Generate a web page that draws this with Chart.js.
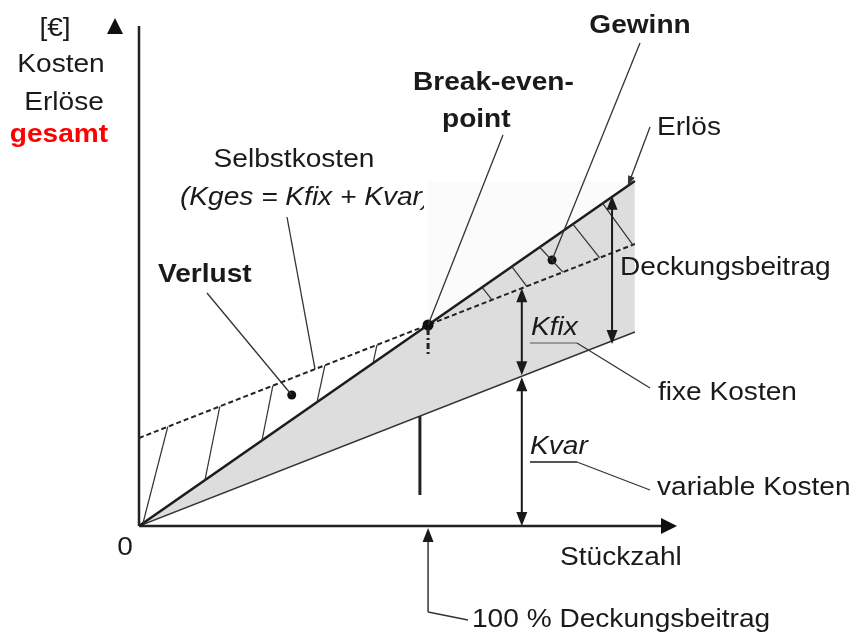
<!DOCTYPE html>
<html lang="de">
<head>
<meta charset="utf-8">
<title>Break-even-Diagramm</title>
<script src="https://cdn.jsdelivr.net/npm/chart.js@4.4.0/dist/chart.umd.min.js"></script>
<style>
html, body { margin: 0; padding: 0; background: #fff; }
#wrap { width: 858px; height: 635px; position: relative; }
</style>
</head>
<body>
<div id="wrap"><canvas id="chart"></canvas></div>
<script>
const stueck = [0, 100];
const erloes = [0, 69];
const kostenGesamt = [17.6, 56.4];
const kostenVariabel = [0, 38.8];
const breakEven = [58.3, 40.2];
const verlustPunkt = [30.8, 26.2];
const gewinnPunkt = [83.3, 53.2];
// Schraffur: [x auf Erlös, x auf Selbstkosten]
const verlustStriche = [[0.8, 5.8], [13.3, 16.3], [24.8, 27.0], [35.9, 37.5], [47.2, 48.0]];
const gewinnStriche = [[69.2, 71.2], [75.2, 78.2], [80.8, 85.5], [87.5, 92.9], [93.5, 99.6]];
const kfixPfeilX = 77.2;
const dbPfeilX = 95.4;
const balkenX = 56.65;
const stueckMax = 108.5;
const euroMax = 100;

const FONT = '"Liberation Sans", Arial, sans-serif';
const INK = '#1a1a1a';

function pts(xs, ys) { return xs.map((x, i) => ({ x: x, y: ys[i] })); }

function yAt(ys, x) {
    for (let i = 1; i < stueck.length; i++) {
        if (x <= stueck[i] || i === stueck.length - 1) {
            const t = (x - stueck[i - 1]) / (stueck[i] - stueck[i - 1]);
            return ys[i - 1] + t * (ys[i] - ys[i - 1]);
        }
    }
}

function text(ctx, str, x, y, opts) {
    opts = opts || {};
    ctx.save();
    ctx.font = (opts.italic ? 'italic ' : '') + (opts.bold ? 'bold ' : '') + '26px ' + FONT;
    ctx.fillStyle = opts.color || INK;
    ctx.textAlign = opts.align || 'left';
    ctx.textBaseline = 'alphabetic';
    if (opts.clipRight) {
        ctx.beginPath();
        ctx.rect(0, 0, opts.clipRight, 635);
        ctx.clip();
    }
    ctx.translate(x, y);
    ctx.scale(1.08, 1);
    ctx.fillText(str, 0, 0);
    ctx.restore();
}

function line(ctx, x1, y1, x2, y2, w, color, dash) {
    ctx.save();
    ctx.strokeStyle = color || '#333';
    ctx.lineWidth = w || 1.3;
    ctx.setLineDash(dash || []);
    ctx.beginPath();
    ctx.moveTo(x1, y1);
    ctx.lineTo(x2, y2);
    ctx.stroke();
    ctx.restore();
}

function head(ctx, x, y, ang, len, half, color) {
    const c = Math.cos(ang), s = Math.sin(ang);
    ctx.save();
    ctx.fillStyle = color || INK;
    ctx.beginPath();
    ctx.moveTo(x, y);
    ctx.lineTo(x - len * c + half * s, y - len * s - half * c);
    ctx.lineTo(x - len * c - half * s, y - len * s + half * c);
    ctx.closePath();
    ctx.fill();
    ctx.restore();
}

function doppelPfeil(ctx, x, yTop, yBot) {
    line(ctx, x, yTop + 10, x, yBot - 10, 2, INK);
    head(ctx, x, yTop, -Math.PI / 2, 14, 5.5);
    head(ctx, x, yBot, Math.PI / 2, 14, 5.5);
}

const skizze = {
    id: 'skizze',
    beforeDatasetsDraw(chart) {
        const { ctx, scales: { x, y } } = chart;
        ctx.save();
        ctx.fillStyle = '#fbfbfb';
        ctx.beginPath();
        ctx.moveTo(x.getPixelForValue(breakEven[0]), y.getPixelForValue(yAt(erloes, breakEven[0])));
        ctx.lineTo(x.getPixelForValue(breakEven[0]), y.getPixelForValue(erloes[1]));
        ctx.lineTo(x.getPixelForValue(stueck[1]), y.getPixelForValue(erloes[1]));
        ctx.closePath();
        ctx.fill();
        ctx.restore();
    },
    afterDatasetsDraw(chart) {
        const { ctx, scales: { x, y } } = chart;
        const px = v => x.getPixelForValue(v);
        const py = v => y.getPixelForValue(v);

        // Schraffur Verlust / Gewinn
        verlustStriche.concat(gewinnStriche).forEach(s => {
            line(ctx, px(s[0]), py(yAt(erloes, s[0])), px(s[1]), py(yAt(kostenGesamt, s[1])), 1.2, '#333');
        });

        // Achsen
        const x0 = px(0), y0 = py(0);
        line(ctx, x0, y0, x0, py(euroMax), 2.5, '#222');
        line(ctx, x0, y0, px(stueckMax) - 14, y0, 2.5, '#222');
        head(ctx, px(stueckMax), y0, 0, 16, 8, '#111');
        head(ctx, x0 - 24, py(euroMax) - 8, -Math.PI / 2, 16, 8, '#111');

        // senkrechte Markierungen am Break-even
        line(ctx, px(breakEven[0]), py(breakEven[1]) + 4, px(breakEven[0]), py(33.8), 3, '#222', [6, 3, 2, 3]);
        line(ctx, px(balkenX), py(yAt(kostenVariabel, balkenX)), px(balkenX), py(6.2), 3, '#222');

        // Pfeile Kfix, Kvar, Deckungsbeitrag
        doppelPfeil(ctx, px(kfixPfeilX), py(yAt(kostenGesamt, kfixPfeilX)), py(yAt(kostenVariabel, kfixPfeilX)) - 1);
        doppelPfeil(ctx, px(kfixPfeilX), py(yAt(kostenVariabel, kfixPfeilX)) + 1, y0);
        doppelPfeil(ctx, px(dbPfeilX), py(yAt(erloes, dbPfeilX)) - 1, py(yAt(kostenVariabel, dbPfeilX)) + 3);

        // Hinweislinien
        line(ctx, 287, 217, px(35.5), py(yAt(kostenGesamt, 35.5)));
        line(ctx, 207, 293, px(verlustPunkt[0]), py(verlustPunkt[1]));
        line(ctx, 503, 135, px(breakEven[0]), py(breakEven[1]));
        line(ctx, 640, 43, px(gewinnPunkt[0]), py(gewinnPunkt[1]));
        const ex = px(98.6), ey = py(yAt(erloes, 98.6));
        line(ctx, 650, 127, ex, ey);
        head(ctx, ex, ey, Math.atan2(ey - 127, ex - 650), 10, 3.5, '#333');
        line(ctx, 530, 343, 577, 343, 2, '#999');
        line(ctx, 577, 343, 650, 388);
        line(ctx, 530, 462, 577, 462, 2, '#555');
        line(ctx, 577, 462, 650, 490);
        const bx = px(breakEven[0]);
        line(ctx, bx, y0 + 14, bx, 612, 1.5, '#333');
        line(ctx, bx, 612, 468, 620);
        head(ctx, bx, y0 + 2, -Math.PI / 2, 14, 5.5);

        // Beschriftung
        text(ctx, '[€]', 55, 36, { align: 'center' });
        text(ctx, 'Kosten', 61, 72, { align: 'center' });
        text(ctx, 'Erlöse', 64, 110, { align: 'center' });
        text(ctx, 'gesamt', 59, 142, { align: 'center', bold: true, color: '#ff0000' });
        text(ctx, 'Selbstkosten', 294, 167, { align: 'center' });
        text(ctx, '(Kges = Kfix + Kvar)', 180, 205, { italic: true, clipRight: 424 });
        text(ctx, 'Verlust', 158, 282, { bold: true });
        text(ctx, 'Break-even-', 413, 90, { bold: true });
        text(ctx, 'point', 442, 127, { bold: true });
        text(ctx, 'Gewinn', 640, 33, { align: 'center', bold: true });
        text(ctx, 'Erlös', 657, 135);
        text(ctx, 'Deckungsbeitrag', 620, 275);
        text(ctx, 'Kfix', 531, 335, { italic: true });
        text(ctx, 'fixe Kosten', 658, 400);
        text(ctx, 'Kvar', 530, 454, { italic: true });
        text(ctx, 'variable Kosten', 657, 495);
        text(ctx, '0', 125, 555, { align: 'center' });
        text(ctx, 'Stückzahl', 560, 565);
        text(ctx, '100 % Deckungsbeitrag', 472, 627);
    }
};

new Chart(document.getElementById('chart').getContext('2d'), {
    type: 'line',
    data: {
        datasets: [
            { label: 'Erlös', data: pts(stueck, erloes), borderColor: '#1c1c1c', borderWidth: 2.5,
              pointRadius: 0, fill: { target: 2 }, backgroundColor: '#dddddd' },
            { label: 'Selbstkosten', data: pts(stueck, kostenGesamt), borderColor: '#222', borderWidth: 2,
              borderDash: [5, 3], pointRadius: 0, fill: false },
            { label: 'variable Kosten', data: pts(stueck, kostenVariabel), borderColor: '#333', borderWidth: 1.5,
              pointRadius: 0, fill: false },
            { label: 'Punkte', data: [pts([breakEven[0]], [breakEven[1]])[0], pts([verlustPunkt[0]], [verlustPunkt[1]])[0], pts([gewinnPunkt[0]], [gewinnPunkt[1]])[0]],
              showLine: false, pointRadius: [5.5, 4.5, 4.5], pointBackgroundColor: '#111', pointBorderWidth: 0, order: -1 }
        ]
    },
    options: {
        responsive: true,
        maintainAspectRatio: false,
        animation: false,
        layout: { padding: { left: 139, right: 858 - 677, top: 26, bottom: 635 - 526 } },
        scales: {
            x: { type: 'linear', min: 0, max: stueckMax, display: false },
            y: { type: 'linear', min: 0, max: euroMax, display: false }
        },
        plugins: {
            legend: { display: false },
            tooltip: { enabled: false },
            filler: { drawTime: 'beforeDatasetsDraw' }
        }
    },
    plugins: [skizze]
});
</script>
</body>
</html>
